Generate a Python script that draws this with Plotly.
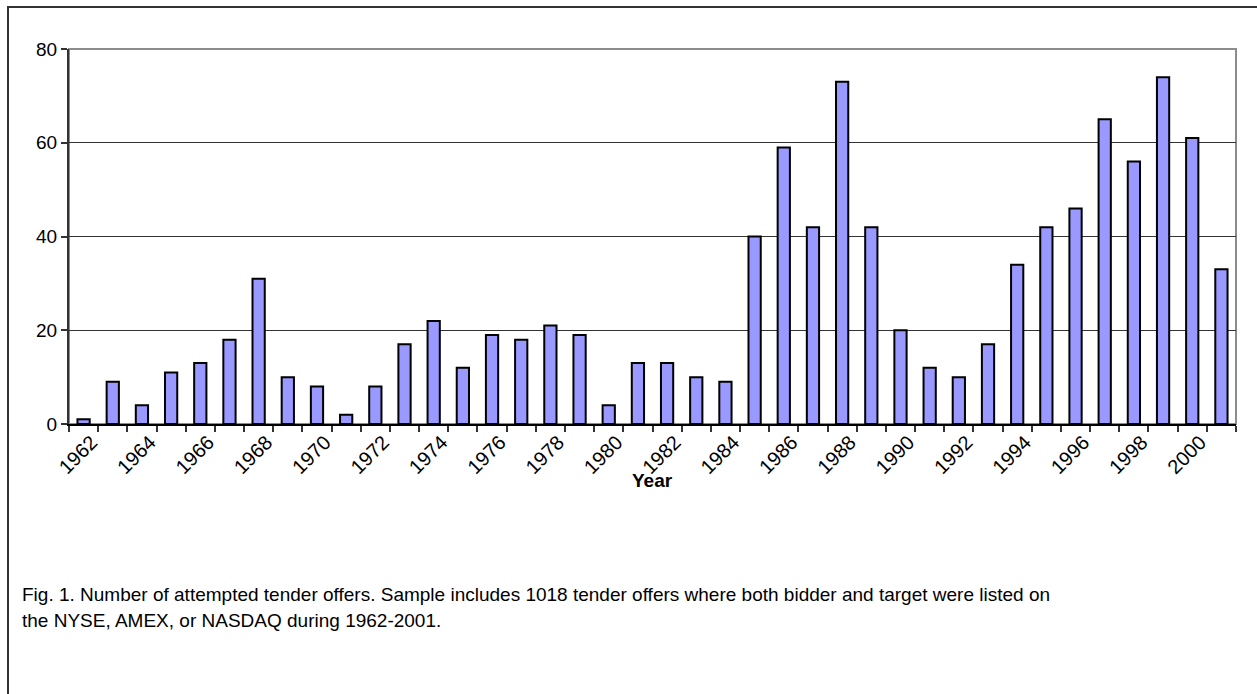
import plotly.graph_objs as go

# Number of attempted tender offers per year
years = [str(y) for y in range(1962, 2002)]
offers = [1, 9, 4, 11, 13, 18, 31, 10, 8, 2,
          8, 17, 22, 12, 19, 18, 21, 19, 4, 13,
          13, 10, 9, 40, 59, 42, 73, 42, 20, 12,
          10, 17, 34, 42, 46, 65, 56, 74, 61, 33]
# only every other year gets a label
tick_text = [y if int(y) % 2 == 0 else '' for y in years]
y_ticks = [0, 20, 40, 60, 80]

caption_1 = ('Fig. 1. Number of attempted tender offers. Sample includes 1018 tender offers '
             'where both bidder and target were listed on')
caption_2 = 'the NYSE, AMEX, or NASDAQ during 1962-2001.'

W, H = 1257, 694
L, R, T, B = 69, 21, 49, 270
pw, ph = W - L - R, H - T - B

def px_x(px):
    return (px - L) / pw

def px_y(py):
    return (H - B - py) / ph

font = 'Liberation Sans, Arial, sans-serif'
fsize = 19

fig = go.Figure(data=[
    go.Bar(
        x=years,
        y=offers,
        marker=dict(color='#9999FF', line=dict(color='black', width=2)),
    )
])

# plot area frame (grey, like the Excel default)
fig.add_shape(type='rect', xref='paper', yref='paper',
              x0=0, y0=0, x1=1, y1=1,
              line=dict(color='#8c8c8c', width=2), layer='below')

# outer chart border (top and left visible)
fig.add_shape(type='rect', xref='paper', yref='paper',
              x0=px_x(8), y0=px_y(H + 20), x1=px_x(W + 20), y1=px_y(7),
              line=dict(color='#333333', width=2))

fig.add_annotation(text='<b>Year</b>', xref='paper', yref='paper',
                   x=0.5, y=px_y(493), showarrow=False,
                   font=dict(family=font, size=fsize, color='black'))
fig.add_annotation(text=caption_1, xref='paper', yref='paper',
                   x=px_x(20), y=px_y(607), xanchor='left', showarrow=False,
                   font=dict(family=font, size=fsize, color='black'))
fig.add_annotation(text=caption_2, xref='paper', yref='paper',
                   x=px_x(20), y=px_y(633), xanchor='left', showarrow=False,
                   font=dict(family=font, size=fsize, color='black'))

fig.update_layout(
    width=W, height=H,
    margin=dict(l=L, r=R, t=T, b=B),
    showlegend=False,
    bargap=0.58,
    plot_bgcolor='white',
    paper_bgcolor='white',
    font=dict(family=font, size=fsize, color='black'),
)

fig.update_xaxes(
    type='category',
    tickmode='array', tickvals=years, ticktext=tick_text,
    tickson='boundaries', ticks='outside', ticklen=6, tickwidth=1.5, tickcolor='#333333',
    tickangle=-45, tickfont=dict(size=20), ticklabelstandoff=-3, ticklabelshift=8,
    showline=True, linecolor='black', linewidth=1.5,
    showgrid=False, zeroline=False,
)
fig.update_yaxes(
    range=[0, 80], tickvals=y_ticks,
    ticks='outside', ticklen=6, tickwidth=1.5, tickcolor='#333333',
    showline=True, linecolor='#333333', linewidth=2,
    showgrid=True, gridcolor='#333333', gridwidth=1,
    zeroline=False,
)

fig.write_html('out.html', config={'displayModeBar': False},
               post_script="document.body.style.margin='0';")
